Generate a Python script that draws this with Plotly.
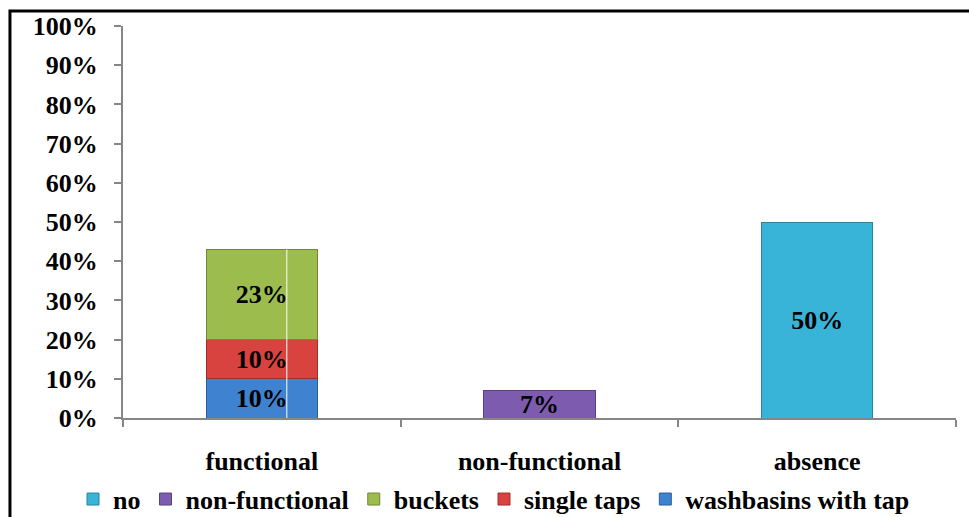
import plotly.graph_objects as go

# Categories on the x axis
categories = ["functional", "non-functional", "absence"]

# Stacked series (percent of respondents)
series_names = ["washbasins with tap", "single taps", "buckets", "non-functional", "no"]
washbasins = [10, None, None]
single_taps = [10, None, None]
buckets = [23, None, None]
non_functional = [None, 7, None]
no_facility = [None, None, 50]
series_values = [washbasins, single_taps, buckets, non_functional, no_facility]

y_ticks = list(range(0, 101, 10))
y_tick_labels = [f"{t}%" for t in y_ticks]

colors = ["#3F82CF", "#D8433F", "#9CBD4E", "#7D5CB0", "#38B4D9"]
edge_colors = ["#2C5F9A", "#9E2E2B", "#6F8A32", "#5A4082", "#27849F"]

FONT = "Liberation Serif"

fig = go.Figure()
for name, vals, col, edge in zip(series_names, series_values, colors, edge_colors):
    fig.add_trace(go.Bar(
        name=f"<b>{name}</b>",
        x=categories,
        y=vals,
        marker=dict(color=col, line=dict(color=edge, width=1)),
        text=[f"<b>{v}%</b>" if v is not None else "" for v in vals],
        textposition="inside",
        insidetextanchor="middle",
        constraintext="none",
        textfont=dict(family=FONT, size=26, color="black"),
    ))

# thin white seam running down the functional stack
functional_total = sum(v[0] for v in series_values if v[0] is not None)
fig.add_shape(type="line", xref="x", yref="y", x0=0.09, x1=0.09, y0=0,
              y1=functional_total, line=dict(color="white", width=1), layer="above")

# outer frame around the whole chart
fig.add_shape(type="rect", xref="paper", yref="paper", x0=-0.1357, x1=1.03,
              y0=-0.4, y1=1.0383, line=dict(color="black", width=3), layer="below")

fig.update_layout(
    barmode="stack",
    bargap=0.6,
    width=969, height=517,
    margin=dict(l=123, r=13, t=26, b=99, autoexpand=False),
    paper_bgcolor="white", plot_bgcolor="white",
    font=dict(family=FONT, size=26, color="black"),
    showlegend=True,
    legend=dict(orientation="h", traceorder="reversed",
                x=-0.06, xanchor="left", y=-0.207, yanchor="middle",
                font=dict(family=FONT, size=26), itemwidth=30, tracegroupgap=0),
    xaxis=dict(showline=True, linecolor="#868686", linewidth=2, ticks="outside",
               tickson="boundaries", ticklen=7, tickcolor="#868686", tickwidth=2,
               ticklabelstandoff=19, showgrid=False, zeroline=False,
               tickvals=categories, ticktext=[f"<b>{c}</b>" for c in categories]),
    yaxis=dict(range=[0, 100], tickvals=y_ticks,
               ticktext=[f"<b>{t}</b>" for t in y_tick_labels],
               showline=True, linecolor="#868686", linewidth=2, ticks="outside",
               ticklen=7, tickcolor="#868686", tickwidth=2, ticklabelstandoff=11,
               showgrid=False, zeroline=False),
)

fig.write_html("out.html")
